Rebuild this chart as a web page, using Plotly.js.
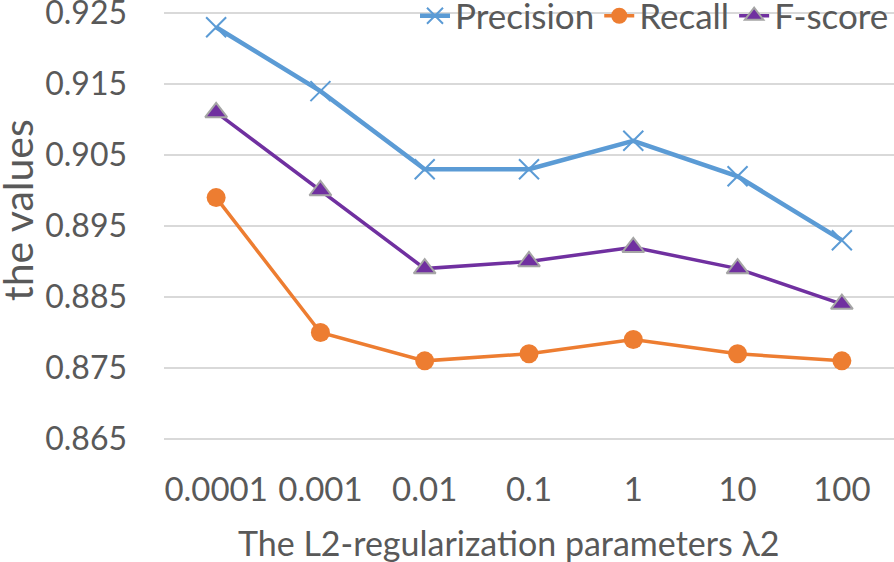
<!DOCTYPE html>
<html><head><meta charset="utf-8">
<script src="https://cdn.plot.ly/plotly-3.0.1.min.js"></script>
<style>html,body{margin:0;padding:0;background:#fff}#chart{width:894px;height:562px}</style>
</head><body><div id="chart"></div>
<script>
const categories = ["0.0001","0.001","0.01","0.1","1","10","100"];
const precision = [0.923,0.914,0.903,0.903,0.907,0.902,0.893];
const recall = [0.899,0.880,0.876,0.877,0.879,0.877,0.876];
const fscore = [0.911,0.900,0.889,0.890,0.892,0.889,0.884];
const yTicks = [0.865,0.875,0.885,0.895,0.905,0.915,0.925];
const xTitle = "The L2-regularization parameters λ2";
const yTitle = "the values";

const FONT = "Lato, 'Open Sans', sans-serif";
const traces = [
  {x:categories,y:precision,name:"Precision",mode:"lines+markers",
   line:{color:"#5B9BD5",width:4.5},
   marker:{symbol:"x-thin-open",size:20,color:"#5B9BD5",line:{color:"#5B9BD5",width:2}}},
  {x:categories,y:recall,name:"Recall",mode:"lines+markers",
   line:{color:"#ED7D31",width:3.5},
   marker:{symbol:"circle",size:19,color:"#ED7D31",line:{width:0}}},
  {x:categories,y:fscore,name:"F-score",mode:"lines+markers",
   line:{color:"#7030A0",width:3.5},
   marker:{symbol:"triangle-up",size:19,color:"#7030A0",line:{color:"#A5A5A5",width:2}}}
];
const L = 164, R = 0, T = 12, B = 122, W = 894, H = 562;
const pw = W - L - R, ph = H - T - B;
const layout = {
  width:W,height:H,
  margin:{l:L,r:R,t:T,b:B,autoexpand:false},
  paper_bgcolor:"#fff",plot_bgcolor:"#fff",
  font:{family:FONT,color:"#595959",size:32},
  showlegend:true,
  legend:{orientation:"h",xref:"container",yref:"container",x:1,xanchor:"right",y:1-16/562,yanchor:"middle",
    font:{size:35,color:"#595959"},bgcolor:"rgba(0,0,0,0)",itemwidth:30,tracegroupgap:0},
  xaxis:{type:"category",range:[-0.5,6.5],showgrid:false,zeroline:false,showline:false,automargin:false,
    ticks:"",ticklabelstandoff:27,tickfont:{size:33,color:"#595959"}},
  yaxis:{range:[0.86485,0.92515],tickvals:yTicks,ticktext:yTicks.map(v=>v.toFixed(3)),automargin:false,
    ticklabeloverflow:"allow",
    showgrid:true,gridcolor:"#D9D9D9",gridwidth:1.5,zeroline:false,showline:false,
    ticks:"",ticklabelstandoff:36,tickfont:{size:32,color:"#595959"}},
  annotations:[
    {text:xTitle,xref:"paper",yref:"paper",x:(508-L)/pw,y:-(542-T-ph)/ph,xanchor:"center",yanchor:"middle",
     showarrow:false,font:{size:34,color:"#595959"}},
    {text:yTitle,xref:"paper",yref:"paper",x:(17-L)/pw,y:(T+ph-210)/ph,xanchor:"center",yanchor:"middle",
     textangle:-90,showarrow:false,font:{size:41,color:"#595959"}}
  ]
};
Plotly.newPlot("chart",traces,layout,{displayModeBar:false,staticPlot:true});
</script></body></html>
